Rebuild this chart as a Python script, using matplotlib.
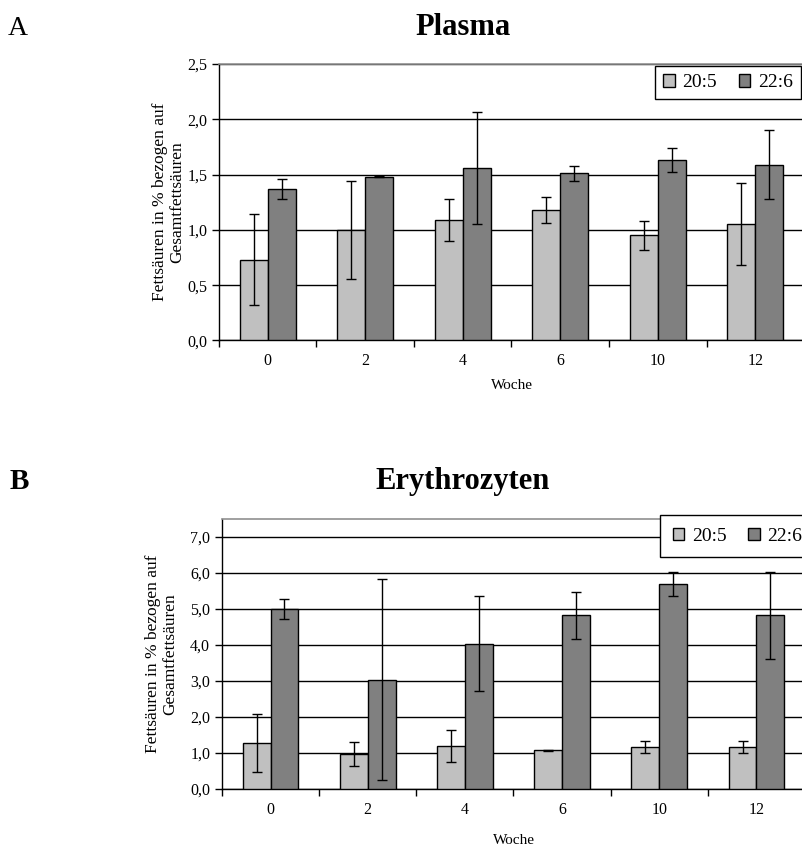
import numpy as np
import matplotlib
matplotlib.use("Agg")
import matplotlib.pyplot as plt
import matplotlib.ticker as mticker
from matplotlib.patches import Patch

plt.rcParams.update({
    "font.family": "Liberation Serif",
    "font.size": 11,
})

# Data (mean, error)
weeks = ["0", "2", "4", "6", "10", "12"]
series = ["20:5", "22:6"]

plasma_205 = [0.73, 1.00, 1.09, 1.18, 0.95, 1.05]
plasma_205_err = [0.41, 0.44, 0.19, 0.12, 0.13, 0.37]
plasma_226 = [1.37, 1.48, 1.56, 1.51, 1.63, 1.59]
plasma_226_err = [0.09, 0.005, 0.51, 0.07, 0.11, 0.31]

ery_205 = [1.27, 0.97, 1.19, 1.07, 1.16, 1.16]
ery_205_err = [0.81, 0.33, 0.45, 0.02, 0.17, 0.17]
ery_226 = [5.00, 3.04, 4.04, 4.82, 5.70, 4.82]
ery_226_err = [0.28, 2.80, 1.31, 0.65, 0.34, 1.22]

LIGHT, DARK = "#C0C0C0", "#808080"
W, H = 803, 847
BW = 2 / 7  # Excel gap width 150%

ylabel = "Fettsäuren in % bezogen auf\nGesamtfettsäuren"


def comma(v, pos):
    return f"{v:.1f}".replace(".", ",")


def panel(rect, v1, e1, v2, e2, ymax, ystep, lbl_x, xlab_y, leg_anchor, leg_pad):
    ax = fig.add_axes(rect)
    x = np.arange(len(weeks))
    for xs, vals, errs, col in [(x - BW / 2, v1, e1, LIGHT), (x + BW / 2, v2, e2, DARK)]:
        ax.bar(xs, vals, width=BW, color=col, edgecolor="black", linewidth=1.0, zorder=3)
        ax.errorbar(xs, vals, yerr=errs, fmt="none", ecolor="black",
                    elinewidth=1.0, capsize=3.6, capthick=1.0, zorder=4)

    ax.set_xlim(-0.5, len(weeks) - 0.5)
    ax.set_ylim(0, ymax)
    ax.set_yticks(np.arange(0, ymax + 1e-9, ystep) if ystep == 0.5 else
                  np.arange(0, ymax - 0.5 + 1e-9, ystep))
    ax.yaxis.set_major_formatter(mticker.FuncFormatter(comma))
    ax.set_xticks(x)
    ax.set_xticklabels(weeks)
    ax.set_xticks(np.arange(-0.5, len(weeks)), minor=True)
    ax.tick_params(axis="x", which="major", length=0, pad=9, labelsize=11.5)
    ax.tick_params(axis="x", which="minor", length=5, width=1, direction="out")
    ax.tick_params(axis="y", length=5, width=1, direction="out", pad=3.5, labelsize=11.5)

    ax.set_axisbelow(True)
    ax.yaxis.grid(True, color="black", linewidth=1.0)
    for s in ["left", "bottom"]:
        ax.spines[s].set_color("black")
        ax.spines[s].set_linewidth(1.0)
    ax.spines["top"].set_color("#909090")
    ax.spines["top"].set_linewidth(1.2)
    ax.spines["right"].set_visible(False)

    ax.set_ylabel(ylabel, fontsize=12.5, linespacing=1.1)
    ax.yaxis.set_label_coords(lbl_x, 0.5)
    ax.set_xlabel("Woche", fontsize=11)
    ax.xaxis.set_label_coords(0.5, xlab_y)

    handles = [Patch(facecolor=LIGHT, edgecolor="black", linewidth=1.0),
               Patch(facecolor=DARK, edgecolor="black", linewidth=1.0)]
    leg = fig.legend(handles, series, loc="upper left", bbox_to_anchor=leg_anchor,
                     bbox_transform=fig.transFigure, ncol=2, fontsize=14,
                     frameon=True, fancybox=False, framealpha=1, edgecolor="black",
                     borderpad=leg_pad, handlelength=0.6, handleheight=0.6,
                     handletextpad=0.4, columnspacing=1.1, borderaxespad=0)
    leg.get_frame().set_linewidth(1.0)
    return ax


fig = plt.figure(figsize=(W / 100, H / 100), dpi=100)

# Panel A: Plasma
panel([219 / W, (H - 340.5) / H, 585 / W, 276.5 / H],
      plasma_205, plasma_205_err, plasma_226, plasma_226_err,
      2.5, 0.5, -0.058, -0.14, (655 / W, 1 - 66 / H), 0.42)
# Panel B: Erythrozyten
panel([222 / W, (H - 789) / H, 583 / W, 270 / H],
      ery_205, ery_205_err, ery_226, ery_226_err,
      7.5, 1.0, -0.075, -0.165, (660 / W, 1 - 515 / H), 0.65)

fig.text(8 / W, 1 - 35 / H, "A", fontsize=20, va="baseline", ha="left")
fig.text(10 / W, 1 - 489 / H, "B", fontsize=21, fontweight="bold", va="baseline", ha="left")
fig.text(463 / W, 1 - 35 / H, "Plasma", fontsize=22, fontweight="bold",
         va="baseline", ha="center")
fig.text(463 / W, 1 - 489 / H, "Erythrozyten", fontsize=22, fontweight="bold",
         va="baseline", ha="center")

fig.savefig("out.png", dpi=100)
plt.close(fig)
